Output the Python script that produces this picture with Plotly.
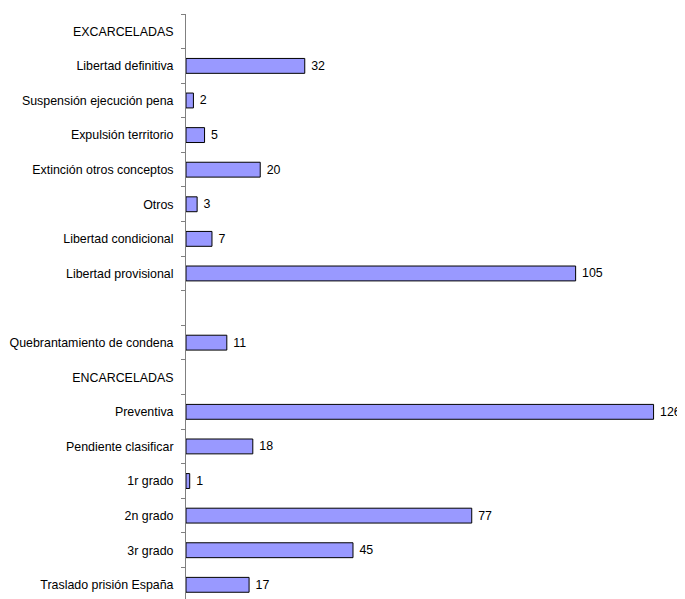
import plotly.graph_objects as go

categories = [
    "EXCARCELADAS",
    "Libertad definitiva",
    "Suspensión ejecución pena",
    "Expulsión territorio",
    "Extinción otros conceptos",
    "Otros",
    "Libertad condicional",
    "Libertad provisional",
    " ",
    "Quebrantamiento de condena",
    "ENCARCELADAS",
    "Preventiva",
    "Pendiente clasificar",
    "1r grado",
    "2n grado",
    "3r grado",
    "Traslado prisión España",
]
values = [None, 32, 2, 5, 20, 3, 7, 105, None, 11, None, 126, 18, 1, 77, 45, 17]
labels = ["" if v is None else " " + str(v) for v in values]

FONT = "Liberation Sans, Arial, sans-serif"

fig = go.Figure(go.Bar(
    y=categories,
    x=values,
    orientation="h",
    width=0.43,
    marker=dict(color="#9999FF", line=dict(color="#000000", width=1)),
    text=labels,
    textposition="outside",
    textfont=dict(family=FONT, size=12.4, color="#000000"),
    cliponaxis=False,
))

# page body has an 8px default margin; size the figure to fill the rest
fig.update_layout(
    width=677, height=591,
    margin=dict(l=178, r=1, t=6, b=0, autoexpand=False),
    paper_bgcolor="white", plot_bgcolor="white",
    showlegend=False,
    font=dict(family=FONT, size=12.4, color="#000000"),
    xaxis=dict(range=[0, 134.2], visible=False, showgrid=False, zeroline=False, automargin=False),
    yaxis=dict(
        type="category",
        categoryorder="array", categoryarray=categories,
        range=[16.41, -0.5],
        automargin=False,
        showline=True, linecolor="#808080", linewidth=1,
        ticks="outside", ticklen=4, tickcolor="#808080", tickson="boundaries",
        ticklabelstandoff=9,
        showgrid=False, zeroline=False,
        tickfont=dict(family=FONT, size=12.4, color="#000000"),
    ),
)

fig.write_html("out.html")
